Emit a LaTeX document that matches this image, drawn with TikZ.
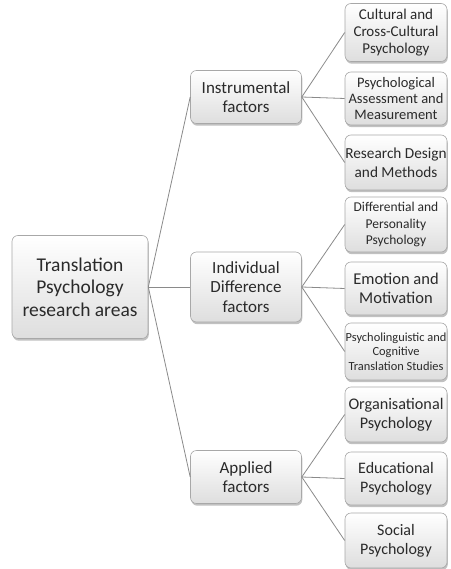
\documentclass[tikz,border=0pt]{standalone}
\usepackage{fontspec}
\setmainfont{Carlito}
\usetikzlibrary{shadows,shadings}
\definecolor{boxtext}{HTML}{2A2A2A}
\definecolor{boxline}{HTML}{A8A8A8}
\definecolor{linkline}{HTML}{8A8A8A}
\tikzset{
  box/.style={draw=boxline, line width=0.6pt, rounded corners=6pt,
    top color=white, bottom color=black!13, text=boxtext, align=center,
    inner sep=1pt,
    drop shadow={shadow xshift=0.8pt, shadow yshift=-2.2pt, opacity=0.35, fill=black!70}},
  rootbox/.style={box, minimum width=136pt, minimum height=103pt,
    font=\fontsize{19.5}{22.5}\selectfont},
  midbox/.style={box, minimum width=111pt, font=\fontsize{17}{19.5}\selectfont},
  leafbox/.style={box, minimum width=102pt, minimum height=55pt, inner xsep=0pt,
    font=\fontsize{15.5}{16.8}\selectfont},
  link/.style={draw=linkline, line width=0.8pt}
}
\begin{document}
\begin{tikzpicture}[x=1pt,y=-1pt]
\useasboundingbox (0,0) rectangle (450,569);

% root and the three groups of factors
\node[rootbox] (root) at (80,287) {Translation\\Psychology\\research areas};
\node[midbox, minimum height=53pt] (instr) at (246,97) {Instrumental\\factors};
\node[midbox, minimum height=70pt] (indiv) at (246,287) {Individual\\Difference\\factors};
\node[midbox, minimum height=53pt] (appl) at (246,477) {Applied\\factors};

% research areas
\node[leafbox, minimum height=58pt, font=\fontsize{15}{16.8}\selectfont] (l1) at (396,32.5) {Cultural and\\Cross-Cultural\\Psychology};
\node[leafbox, minimum height=53pt, font=\fontsize{14.5}{16}\selectfont] (l2) at (396,98.5) {Psychological\\Assessment and\\Measurement};
\node[leafbox, font=\fontsize{15.3}{19}\selectfont] (l3) at (396,162.5) {Research Design\\and Methods};
\node[leafbox, font=\fontsize{13.5}{16.5}\selectfont] (l4) at (396,224.5) {Differential and\\Personality\\Psychology};
\node[leafbox, minimum height=53pt, font=\fontsize{16.5}{19.5}\selectfont] (l5) at (396,288.5) {Emotion and\\Motivation};
\node[leafbox, minimum height=57pt, font=\fontsize{12.4}{14.5}\selectfont] (l6) at (396,351.5) {Psycholinguistic and\\Cognitive\\Translation Studies};
\node[leafbox, font=\fontsize{16.2}{19}\selectfont] (l7) at (396,414.5) {Organisational\\Psychology};
\node[leafbox, minimum height=53pt, font=\fontsize{16}{19}\selectfont] (l8) at (396,478.5) {Educational\\Psychology};
\node[leafbox, font=\fontsize{16}{19}\selectfont] (l9) at (396,540.5) {Social\\Psychology};

% connectors
\draw[link] (root.east) -- (instr.west);
\draw[link] (root.east) -- (indiv.west);
\draw[link] (root.east) -- (appl.west);
\foreach \leaf in {l1,l2,l3} \draw[link] (instr.east) -- (\leaf.west);
\foreach \leaf in {l4,l5,l6} \draw[link] (indiv.east) -- (\leaf.west);
\foreach \leaf in {l7,l8,l9} \draw[link] (appl.east) -- (\leaf.west);
\end{tikzpicture}
\end{document}
